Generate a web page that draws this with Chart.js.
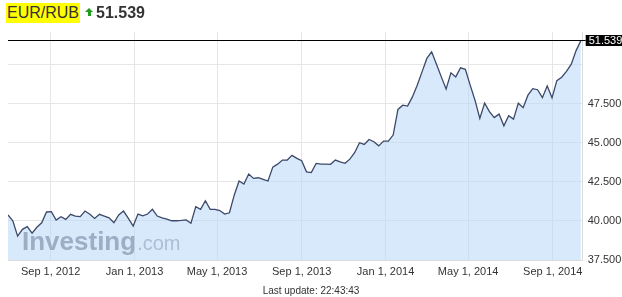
<!DOCTYPE html>
<html><head><meta charset="utf-8">
<script src="https://cdn.jsdelivr.net/npm/chart.js@4"></script>
<style>
html,body{margin:0;padding:0;width:622px;height:297px;overflow:hidden;background:#fff;font-family:Arial,"Liberation Sans",sans-serif;}
#cv{position:absolute;left:0;top:0;}
#sym{position:absolute;left:6px;top:3px;height:20px;line-height:20px;padding:0 1px;background:#ffff00;color:#333;font-size:16px;white-space:nowrap;}
#arrowHead{position:absolute;left:85px;top:8px;width:0;height:0;border-left:4px solid transparent;border-right:4px solid transparent;border-bottom:4px solid #1f9d1f;}
#arrowStem{position:absolute;left:87.5px;top:12px;width:3px;height:4px;background:#1f9d1f;}
#price{position:absolute;left:96px;top:3px;height:20px;line-height:20px;font-size:16px;font-weight:bold;color:#333;white-space:nowrap;}
#upd{position:absolute;left:0;top:285px;width:622px;text-align:center;font-size:10px;color:#333;line-height:12px;}
</style></head>
<body>
<canvas id="cv" width="622" height="297"></canvas>
<div id="sym">EUR/RUB</div>
<div id="arrowHead"></div><div id="arrowStem"></div>
<div id="price">51.539</div>
<div id="upd">Last update: 22:43:43</div>
<script>
// Weekly closes, first week starting Sunday Jul 1, 2012
const START_DATE = '2012-07-01';
const weeklyClose = [
 40.38,40.01,39.03,39.46,39.63,39.21,39.59,39.88,40.57,40.59,
 40.06,40.27,40.10,40.42,40.31,40.27,40.63,40.42,40.16,40.42,
 40.31,40.20,39.88,40.38,40.63,40.16,39.67,40.44,40.33,40.44,
 40.74,40.31,40.20,40.11,40.01,40.01,40.03,40.06,39.85,40.91,
 40.74,41.29,40.74,40.74,40.66,40.44,40.52,41.66,42.55,42.36,
 43.00,42.72,42.76,42.66,42.55,43.44,43.63,43.89,43.89,44.19,
 44.00,43.85,43.14,43.09,43.68,43.63,43.63,43.62,43.89,43.78,
 43.68,43.95,44.36,45.00,44.89,45.21,45.06,44.80,45.10,45.10,
 45.49,47.13,47.40,47.34,47.93,48.68,49.53,50.39,50.81,50.02,
 49.21,48.43,49.47,49.21,49.79,49.69,48.68,47.72,46.55,47.53,
 46.99,46.61,46.83,46.08,46.73,46.51,47.53,47.24,48.04,48.46,
 48.39,47.88,48.63,47.87,48.97,49.19,49.56,50.02,50.89,51.539
];
const xTickDates = ['2012-09-01','2013-01-01','2013-05-01','2013-09-01','2014-01-01','2014-05-01','2014-09-01'];
const xTickLabels = ['Sep 1, 2012','Jan 1, 2013','May 1, 2013','Sep 1, 2013','Jan 1, 2014','May 1, 2014','Sep 1, 2014'];
const yTickValues = [37.5,40,42.5,45,47.5,50];
const hiddenYLabels = [50];
const lastPrice = 51.539;
const xEndDate = '2014-10-15';
const yMin = 37.5, yMax = 52.08;

const DAY = 86400000;
const dayOf = d => (Date.parse(d) - Date.parse(START_DATE)) / DAY;
const points = weeklyClose.map((v, i) => ({x: i * 7, y: v}));
const FONT = 'Arial, "Liberation Sans", sans-serif';

const overlay = {
  id: 'overlay',
  beforeDatasetsDraw(chart) {
    const {ctx, chartArea: a} = chart;
    ctx.save();
    ctx.textBaseline = 'alphabetic';
    ctx.font = 'bold 26px ' + FONT;
    ctx.fillStyle = '#767c84';
    ctx.fillText('Investing', a.left + 14, 250);
    const w = ctx.measureText('Investing').width;
    ctx.font = '20px ' + FONT;
    ctx.fillStyle = '#9aa0a8';
    ctx.fillText('.com', a.left + 14 + w + 1, 250);
    ctx.restore();
  },
  afterDatasetsDraw(chart) {
    const {ctx, chartArea: a, scales: {y}} = chart;
    const py = Math.round(y.getPixelForValue(lastPrice)) + 0.5;
    ctx.save();
    ctx.strokeStyle = '#000';
    ctx.lineWidth = 1;
    ctx.beginPath();
    ctx.moveTo(a.left, py);
    ctx.lineTo(a.right + 3, py);
    ctx.stroke();
    ctx.fillStyle = '#000';
    ctx.fillRect(a.right + 3, py - 5.5, chart.width - (a.right + 3), 11);
    ctx.fillStyle = '#fff';
    ctx.font = '11px ' + FONT;
    ctx.textBaseline = 'middle';
    ctx.fillText(lastPrice.toFixed(3), a.right + 6, py + 0.5);
    ctx.restore();
  }
};

new Chart(document.getElementById('cv'), {
  type: 'line',
  data: {
    datasets: [{
      data: points,
      borderColor: '#3b4869',
      borderWidth: 1.3,
      backgroundColor: 'rgba(185,215,250,0.55)',
      fill: 'start',
      pointRadius: 0,
      tension: 0
    }]
  },
  options: {
    responsive: false,
    animation: false,
    devicePixelRatio: 1,
    layout: {padding: {left: 8, top: 32, right: 0, bottom: 0}},
    plugins: {legend: {display: false}, tooltip: {enabled: false}},
    scales: {
      x: {
        type: 'linear',
        min: 0,
        max: dayOf(xEndDate) - 0.4,
        afterBuildTicks: s => { s.ticks = xTickDates.map(d => ({value: dayOf(d)})); },
        afterFit: s => { s.height = 37; },
        grid: {color: '#e6e6e6', drawTicks: false},
        border: {display: true, color: '#dcdcdc'},
        ticks: {
          padding: 5,
          maxRotation: 0,
          autoSkip: false,
          color: '#333',
          font: {family: FONT, size: 11},
          callback: (v, i) => xTickLabels[i]
        }
      },
      y: {
        position: 'right',
        min: yMin,
        max: yMax,
        afterBuildTicks: s => { s.ticks = yTickValues.map(v => ({value: v})); },
        afterFit: s => { s.width = 39.3; },
        grid: {color: '#e6e6e6', drawTicks: false},
        border: {display: true, color: '#dcdcdc'},
        ticks: {
          padding: 5,
          color: '#333',
          font: {family: FONT, size: 11},
          callback: v => hiddenYLabels.includes(v) ? '' : v.toFixed(3)
        }
      }
    }
  },
  plugins: [overlay]
});
</script>
</body></html>
